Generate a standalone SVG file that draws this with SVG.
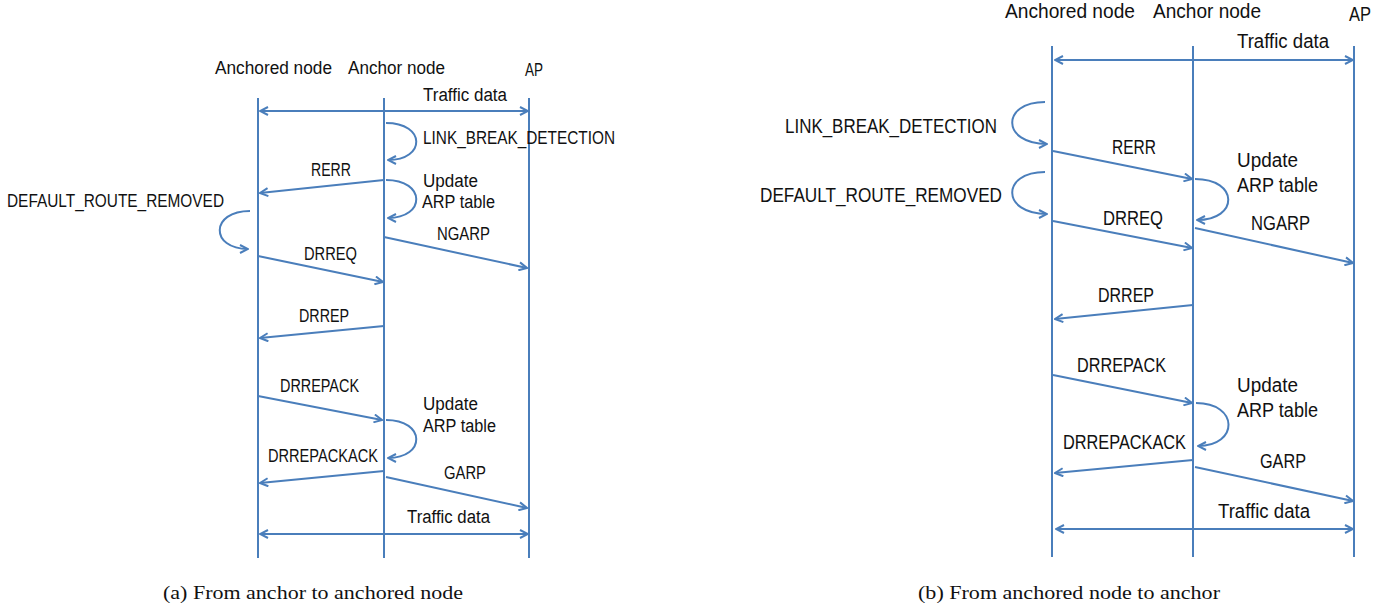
<svg xmlns="http://www.w3.org/2000/svg" width="1396" height="608" viewBox="0 0 1396 608">
<style>
.ll{stroke:#4A7EBB;stroke-width:2;fill:none}
.c{stroke:#4A7EBB;stroke-width:2;fill:none}
.ar{marker-end:url(#ah)}
.bi{marker-start:url(#ah);marker-end:url(#ah)}
text{font-family:"Liberation Sans",Arial,sans-serif;fill:#111}
.a{font-size:18px}
.b{font-size:19.5px}
.cap{font-family:"Liberation Serif","Times New Roman",serif;font-size:19.5px}
</style>
<defs>
<marker id="ah" viewBox="0 0 10 10" refX="9" refY="5" markerWidth="10" markerHeight="10" markerUnits="userSpaceOnUse" orient="auto-start-reverse">
<path d="M1,1 L9,5 L1,9" fill="none" stroke="#4A7EBB" stroke-width="2"/>
</marker>
</defs>
<rect width="1396" height="608" fill="#fff"/>

<!-- Panel (a) -->
<g id="a-anchored">
<line class="ll" x1="258" y1="98" x2="258" y2="558"/>
<text class="a" x="215" y="74" textLength="117" lengthAdjust="spacingAndGlyphs">Anchored node</text>
</g>
<g id="a-anchor">
<line class="ll" x1="384" y1="98" x2="384" y2="558"/>
<text class="a" x="348" y="74" textLength="97" lengthAdjust="spacingAndGlyphs">Anchor node</text>
</g>
<g id="a-ap">
<line class="ll" x1="529" y1="98" x2="529" y2="558"/>
<text class="a" x="525" y="76" textLength="18" lengthAdjust="spacingAndGlyphs">AP</text>
</g>
<g id="a-connectors">
<line class="c bi" x1="260" y1="111" x2="528" y2="111"/>
<path class="c ar" d="M386,123 C426,123 426,160 388,160"/>
<line class="c ar" x1="384" y1="180" x2="260" y2="193"/>
<path class="c ar" d="M386,180 C426,180 426,218 388,218"/>
<path class="c ar" d="M250,211 C210,211 210,249 248,249"/>
<line class="c ar" x1="384" y1="237" x2="527" y2="268"/>
<line class="c ar" x1="258" y1="256" x2="383" y2="282"/>
<line class="c ar" x1="384" y1="326" x2="260" y2="338"/>
<line class="c ar" x1="258" y1="396" x2="382" y2="420"/>
<path class="c ar" d="M386,420 C426,420 426,458 388,458"/>
<line class="c ar" x1="384" y1="471" x2="260" y2="483"/>
<line class="c ar" x1="386" y1="477" x2="527" y2="508"/>
<line class="c bi" x1="260" y1="534" x2="528" y2="534"/>
</g>
<g id="a-labels">
<text class="a" x="423" y="101" textLength="84" lengthAdjust="spacingAndGlyphs">Traffic data</text>
<text class="a" x="423" y="144" textLength="192" lengthAdjust="spacingAndGlyphs">LINK_BREAK_DETECTION</text>
<text class="a" x="311" y="176" textLength="40" lengthAdjust="spacingAndGlyphs">RERR</text>
<text class="a" x="423" y="187" textLength="55" lengthAdjust="spacingAndGlyphs">Update</text>
<text class="a" x="422" y="208" textLength="73" lengthAdjust="spacingAndGlyphs">ARP table</text>
<text class="a" x="7" y="207" textLength="217" lengthAdjust="spacingAndGlyphs">DEFAULT_ROUTE_REMOVED</text>
<text class="a" x="437" y="240" textLength="53" lengthAdjust="spacingAndGlyphs">NGARP</text>
<text class="a" x="304" y="260" textLength="53" lengthAdjust="spacingAndGlyphs">DRREQ</text>
<text class="a" x="299" y="322" textLength="50" lengthAdjust="spacingAndGlyphs">DRREP</text>
<text class="a" x="280" y="392" textLength="79" lengthAdjust="spacingAndGlyphs">DRREPACK</text>
<text class="a" x="423" y="410" textLength="55" lengthAdjust="spacingAndGlyphs">Update</text>
<text class="a" x="423" y="432" textLength="73" lengthAdjust="spacingAndGlyphs">ARP table</text>
<text class="a" x="268" y="462" textLength="110" lengthAdjust="spacingAndGlyphs">DRREPACKACK</text>
<text class="a" x="444" y="479" textLength="42" lengthAdjust="spacingAndGlyphs">GARP</text>
<text class="a" x="407" y="523" textLength="83" lengthAdjust="spacingAndGlyphs">Traffic data</text>
</g>
<text class="cap" x="163" y="599" textLength="300" lengthAdjust="spacingAndGlyphs">(a) From anchor to anchored node</text>

<!-- Panel (b) -->
<g id="b-anchored">
<line class="ll" x1="1052" y1="46" x2="1052" y2="557"/>
<text class="b" x="1005" y="18" textLength="130" lengthAdjust="spacingAndGlyphs">Anchored node</text>
</g>
<g id="b-anchor">
<line class="ll" x1="1193" y1="46" x2="1193" y2="557"/>
<text class="b" x="1153" y="18" textLength="108" lengthAdjust="spacingAndGlyphs">Anchor node</text>
</g>
<g id="b-ap">
<line class="ll" x1="1354" y1="46" x2="1354" y2="557"/>
<text class="b" x="1349" y="21" textLength="22" lengthAdjust="spacingAndGlyphs">AP</text>
</g>
<g id="b-connectors">
<line class="c bi" x1="1055" y1="60" x2="1353" y2="60"/>
<path class="c ar" d="M1045,102 C1001,102 1001,144 1047,144"/>
<line class="c ar" x1="1053" y1="151" x2="1192" y2="179"/>
<path class="c ar" d="M1045,172 C1001,172 1001,214 1047,214"/>
<path class="c ar" d="M1195,179 C1239,179 1239,220 1197,220"/>
<line class="c ar" x1="1053" y1="221" x2="1192" y2="248"/>
<line class="c ar" x1="1195" y1="228" x2="1353" y2="263"/>
<line class="c ar" x1="1193" y1="305" x2="1055" y2="319"/>
<line class="c ar" x1="1053" y1="375" x2="1192" y2="403"/>
<path class="c ar" d="M1196,403 C1239,403 1239,446 1198,446"/>
<line class="c ar" x1="1193" y1="460" x2="1055" y2="473"/>
<line class="c ar" x1="1195" y1="467" x2="1353" y2="501"/>
<line class="c bi" x1="1056" y1="529" x2="1353" y2="529"/>
</g>
<g id="b-labels">
<text class="b" x="1237" y="48" textLength="92" lengthAdjust="spacingAndGlyphs">Traffic data</text>
<text class="b" x="785" y="133" textLength="212" lengthAdjust="spacingAndGlyphs">LINK_BREAK_DETECTION</text>
<text class="b" x="760" y="202" textLength="242" lengthAdjust="spacingAndGlyphs">DEFAULT_ROUTE_REMOVED</text>
<text class="b" x="1112" y="154" textLength="44" lengthAdjust="spacingAndGlyphs">RERR</text>
<text class="b" x="1237" y="167" textLength="61" lengthAdjust="spacingAndGlyphs">Update</text>
<text class="b" x="1237" y="192" textLength="81" lengthAdjust="spacingAndGlyphs">ARP table</text>
<text class="b" x="1103" y="225" textLength="60" lengthAdjust="spacingAndGlyphs">DRREQ</text>
<text class="b" x="1251" y="230" textLength="59" lengthAdjust="spacingAndGlyphs">NGARP</text>
<text class="b" x="1098" y="302" textLength="56" lengthAdjust="spacingAndGlyphs">DRREP</text>
<text class="b" x="1077" y="372" textLength="89" lengthAdjust="spacingAndGlyphs">DRREPACK</text>
<text class="b" x="1237" y="392" textLength="61" lengthAdjust="spacingAndGlyphs">Update</text>
<text class="b" x="1237" y="417" textLength="81" lengthAdjust="spacingAndGlyphs">ARP table</text>
<text class="b" x="1063" y="449" textLength="123" lengthAdjust="spacingAndGlyphs">DRREPACKACK</text>
<text class="b" x="1260" y="468" textLength="46" lengthAdjust="spacingAndGlyphs">GARP</text>
<text class="b" x="1218" y="518" textLength="92" lengthAdjust="spacingAndGlyphs">Traffic data</text>
</g>
<text class="cap" x="918" y="599" textLength="302" lengthAdjust="spacingAndGlyphs">(b) From anchored node to anchor</text>
</svg>
